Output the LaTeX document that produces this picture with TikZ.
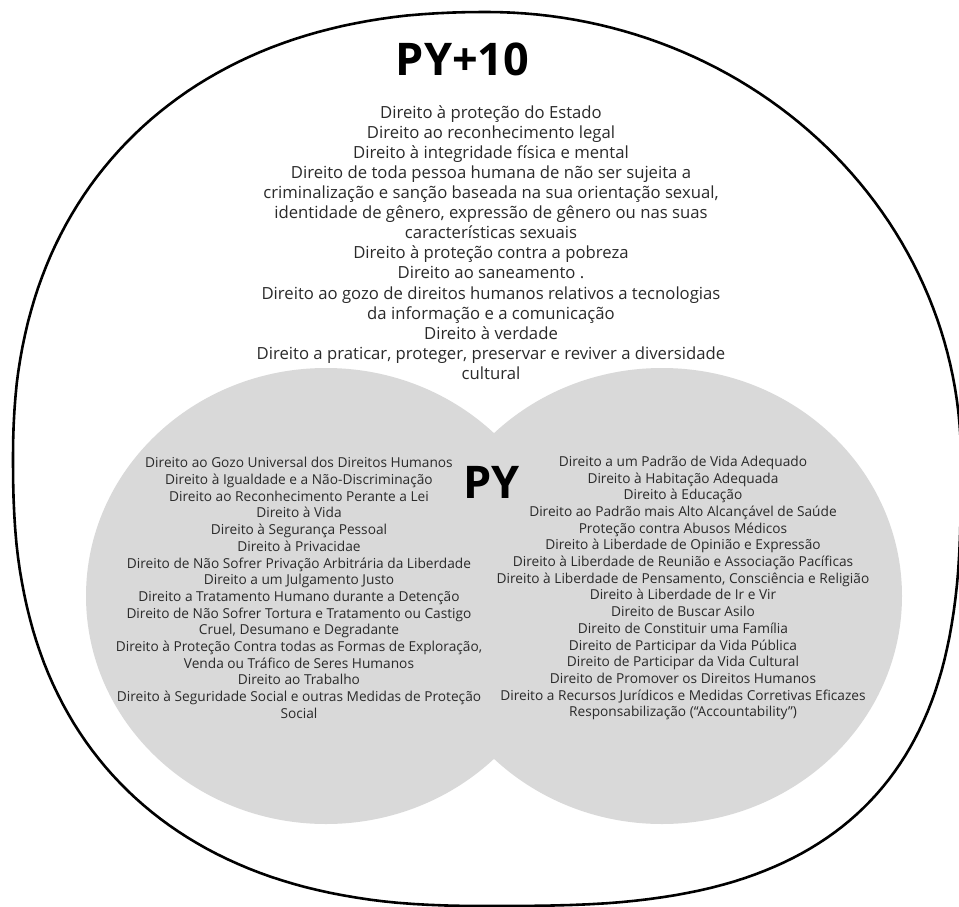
\documentclass[tikz,border=0pt]{standalone}
\usepackage{fontspec}
\setmainfont{Open Sans}
\definecolor{circgray}{HTML}{D9D9D9}
\definecolor{txtgray}{HTML}{2A2A2A}
\tikzset{
  toptext/.style={align=center, inner sep=0pt, text=txtgray, font=\fontsize{16.7}{20.1}\selectfont},
  circtext/.style={align=center, inner sep=0pt, text=txtgray, font=\fontsize{13.7}{16.7}\selectfont},
  bigtitle/.style={inner sep=0pt, text=black, font=\fontsize{45}{50}\selectfont\bfseries},
  outline/.style={draw=black, line width=2.6pt, line join=round}
}
\begin{document}
\begin{tikzpicture}[x=1pt,y=-1pt]
\useasboundingbox (0,0) rectangle (959,907);
\fill[white] (0,0) rectangle (959,907);
% gray circles
\fill[circgray] (326,596) ellipse [x radius=240, y radius=228];
\fill[circgray] (662,596) ellipse [x radius=240, y radius=228];
% outer egg outline (superellipse quadrants)
\draw[outline]
  plot[domain=0:90, samples=60, variable=\t]
    ({487+474*pow(abs(cos(\t))+0.00001,1.0)}, {459-447*pow(abs(sin(\t))+0.00001,1.0)})
  -- plot[domain=90:180, samples=60, variable=\t]
    ({487-474*pow(abs(cos(\t))+0.00001,0.889)}, {459-447*pow(abs(sin(\t))+0.00001,0.889)})
  -- plot[domain=180:270, samples=60, variable=\t]
    ({487-474*pow(abs(cos(\t))+0.00001,0.83)}, {459+447*pow(abs(sin(\t))+0.00001,0.83)})
  -- plot[domain=270:360, samples=60, variable=\t]
    ({487+474*pow(abs(cos(\t))+0.00001,0.69)}, {459+447*pow(abs(sin(\t))+0.00001,0.69)})
  -- cycle;
% titles
\node[bigtitle] (py10) at (462.5,59) {PY+10};
\node[bigtitle] (py) at (491.5,482.5) {PY};
% top text
\node[toptext] (rights10) at (491,242.5) {Direito à proteção do Estado\\
Direito ao reconhecimento legal\\
Direito à integridade física e mental\\
Direito de toda pessoa humana de não ser sujeita a\\
criminalização e sanção baseada na sua orientação sexual,\\
identidade de gênero, expressão de gênero ou nas suas\\
características sexuais\\
Direito à proteção contra a pobreza\\
Direito ao saneamento .\\
Direito ao gozo de direitos humanos relativos a tecnologias\\
da informação e a comunicação\\
Direito à verdade\\
Direito a praticar, proteger, preservar e reviver a diversidade\\
cultural};
% left circle text
\node[circtext] (leftrights) at (299,588) {Direito ao Gozo Universal dos Direitos Humanos\\
Direito à Igualdade e a Não-Discriminação\\
Direito ao Reconhecimento Perante a Lei\\
Direito à Vida\\
Direito à Segurança Pessoal\\
Direito à Privacidae\\
Direito de Não Sofrer Privação Arbitrária da Liberdade\\
Direito a um Julgamento Justo\\
Direito a Tratamento Humano durante a Detenção\\
Direito de Não Sofrer Tortura e Tratamento ou Castigo\\
Cruel, Desumano e Degradante\\
Direito à Proteção Contra todas as Formas de Exploração,\\
Venda ou Tráfico de Seres Humanos\\
Direito ao Trabalho\\
Direito à Seguridade Social e outras Medidas de Proteção\\
Social};
% right circle text
\node[circtext] (rightrights) at (683,588) {Direito a um Padrão de Vida Adequado\\
Direito à Habitação Adequada\\
Direito à Educação\\
Direito ao Padrão mais Alto Alcançável de Saúde\\
Proteção contra Abusos Médicos\\
Direito à Liberdade de Opinião e Expressão\\
Direito à Liberdade de Reunião e Associação Pacíficas\\
Direito à Liberdade de Pensamento, Consciência e Religião\\
Direito à Liberdade de Ir e Vir\\
Direito de Buscar Asilo\\
Direito de Constituir uma Família\\
Direito de Participar da Vida Pública\\
Direito de Participar da Vida Cultural\\
Direito de Promover os Direitos Humanos\\
Direito a Recursos Jurídicos e Medidas Corretivas Eficazes\\
Responsabilização (“Accountability”)};
\end{tikzpicture}
\end{document}
